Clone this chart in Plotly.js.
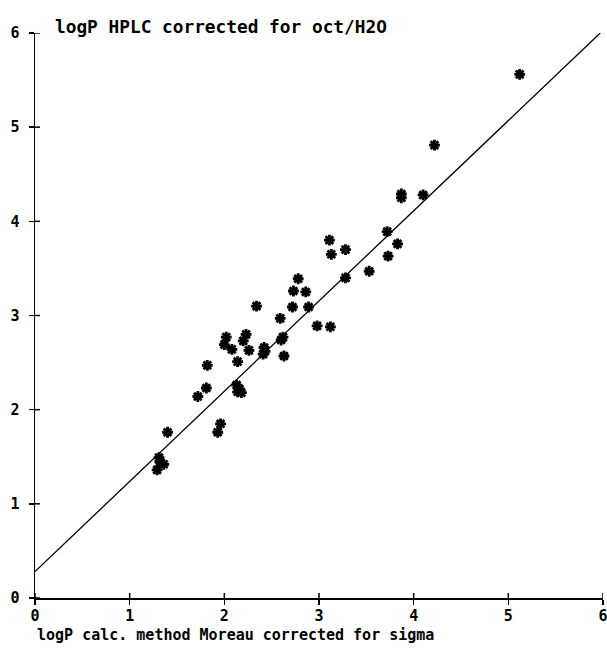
<!DOCTYPE html>
<html>
<head>
<meta charset="utf-8">
<script src="https://cdn.plot.ly/plotly-3.0.1.min.js"></script>
<style>body{margin:0;background:#fff}</style>
</head>
<body>
<div id="chart" style="width:607px;height:650px"></div>
<script>
// logP calc. (Moreau, corrected for sigma)
const calcX = [5.12, 4.22, 3.87, 3.87, 4.10, 3.72, 3.83, 3.73, 3.11, 3.13,
               3.28, 3.28, 3.53, 2.78, 2.73, 2.86, 2.72, 2.89, 2.59, 2.98,
               3.12, 2.62, 2.60, 2.63, 2.34, 2.02, 2.23, 2.00, 2.20, 2.08,
               2.26, 2.42, 2.43, 2.41, 2.14, 1.82, 2.13, 2.16, 2.18, 2.14,
               1.81, 1.72, 1.96, 1.93, 1.40, 1.31, 1.32, 1.36, 1.29];
// logP HPLC corrected for oct/H2O
const hplcY = [5.56, 4.81, 4.29, 4.25, 4.28, 3.89, 3.76, 3.63, 3.80, 3.65,
               3.70, 3.40, 3.47, 3.39, 3.26, 3.25, 3.09, 3.09, 2.97, 2.89,
               2.88, 2.77, 2.74, 2.57, 3.10, 2.77, 2.80, 2.69, 2.73, 2.64,
               2.63, 2.66, 2.62, 2.59, 2.51, 2.47, 2.26, 2.22, 2.18, 2.19,
               2.23, 2.14, 1.85, 1.76, 1.76, 1.49, 1.44, 1.42, 1.36];
// regression line
const fitIntercept = 0.28;
const fitSlope = 0.958;
const tickVals = [0, 1, 2, 3, 4, 5, 6];
const tickText = ["0", "1", "2", "3", "4", "5", "6"];
const xTitle = "logP calc. method Moreau corrected for sigma";
const yTitle = "logP HPLC corrected for oct/H2O";

const axMax = 6;
const fitX = [0, (axMax - fitIntercept) / fitSlope];
const fitY = fitX.map(v => fitIntercept + fitSlope * v);

const font = {family: "DejaVu Sans Mono, monospace", size: 15, color: "#000", weight: "bold"};
const yTitleFont = {family: "DejaVu Sans Mono, monospace", size: 17.8, color: "#000", weight: "bold"};

const traces = [
  {x: fitX, y: fitY, mode: "lines", line: {color: "#000", width: 1.3}, hoverinfo: "skip"},
  {x: calcX, y: hplcY, mode: "markers",
   marker: {symbol: "asterisk-open", size: 9, color: "#000", line: {color: "#000", width: 2.8}}}
];

const shapes = [];
tickVals.forEach(v => {
  shapes.push({type: "line", xref: "x", yref: "y", xsizemode: "scaled", ysizemode: "pixel",
    x0: v, x1: v, yanchor: 0, y0: 0, y1: 5, line: {color: "#000", width: 1.5}});
  shapes.push({type: "line", xref: "x", yref: "y", xsizemode: "pixel", ysizemode: "scaled",
    xanchor: 0, x0: 0, x1: 5, y0: v, y1: v, line: {color: "#000", width: 1.5}});
});

const layout = {
  width: 607, height: 650,
  margin: {l: 35, r: 4, t: 33, b: 52},
  paper_bgcolor: "#fff", plot_bgcolor: "#fff",
  showlegend: false,
  font: font,
  xaxis: {range: [0, 6], tickvals: tickVals, ticktext: tickText, ticks: "outside",
          ticklen: 5, tickwidth: 1.5, tickcolor: "#000", showline: true, linecolor: "#000",
          linewidth: 1.5, showgrid: false, zeroline: false, tickfont: font,
          ticklabeloverflow: "allow", ticklabelstandoff: -2},
  yaxis: {range: [0, 6], tickvals: tickVals, ticktext: tickText, ticks: "outside",
          ticklen: 5, tickwidth: 1.5, tickcolor: "#000", showline: true, linecolor: "#000",
          linewidth: 1.5, showgrid: false, zeroline: false, tickfont: font,
          ticklabelstandoff: 6},
  shapes: shapes,
  annotations: [
    {text: yTitle, xref: "paper", yref: "paper", x: 0, y: 1, xshift: 18, yshift: 7,
     xanchor: "left", yanchor: "middle", showarrow: false, font: yTitleFont},
    {text: xTitle, xref: "paper", yref: "paper", x: 0, y: 0, xshift: 0, yshift: -37,
     xanchor: "left", yanchor: "middle", showarrow: false, font: font}
  ]
};

Plotly.newPlot("chart", traces, layout, {displayModeBar: false, staticPlot: true});
</script>
</body>
</html>
